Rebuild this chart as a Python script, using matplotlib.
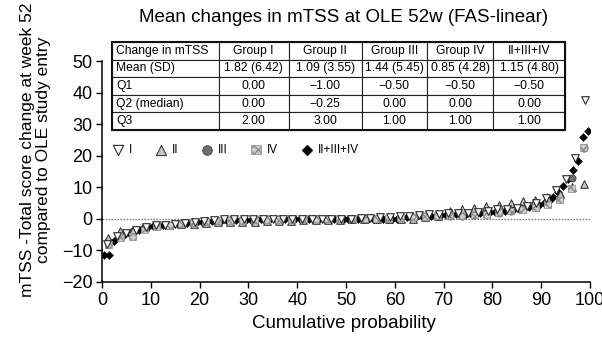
import numpy as np
import matplotlib
matplotlib.use('Agg')
import matplotlib.pyplot as plt
from matplotlib.patches import Rectangle

# ---------------- data ----------------
group_I = [-8, -5.5, -4.5, -3.5, -2.5, -2, -1.8, -1.5, -1.2, -1, -0.8, -0.5, -0.2,
           0, 0, 0, 0, 0, 0, 0, 0, 0, 0, 0, 0, 0,
           0.2, 0.3, 0.5, 0.7, 1, 1, 1.2, 1.5, 1.5, 1.8, 2, 2, 2.2, 2.5, 3, 3.2,
           3.5, 4, 5, 6.5, 9, 12.5, 19.4, 37.8]
group_II = [-6, -4, -3.5, -2.5, -2, -1.8, -1.5, -1.5, -1.2, -1, -1, -1, -1, -0.8,
            -0.7, -0.6, -0.5, -0.5, -0.4, -0.3, -0.2, -0.2, 0, 0, 0, 0,
            0.5, 1, 2.5, 3, 3.5, 4, 4.5, 5, 5.5, 6, 7, 8, 10, 11]
group_III = [-7, -5, -4, -3, -2.2, -1.8, -1.4, -1, -0.8, -0.6, -0.5, -0.4, -0.3,
             -0.2, -0.1, 0, 0, 0, 0, 0, 0, 0, 0,
             0.1, 0.3, 0.5, 0.8, 1, 1, 1, 1.2, 1.5, 2, 2.5, 3, 4, 5, 7, 13, 22.5]
group_IV = [-8, -6, -5.5, -3.5, -2.5, -2, -1.5, -1.2, -0.9, -0.6, -0.5, -0.4, -0.3,
            -0.2, -0.1, -0.1, 0, 0, 0, 0, 0, 0, 0,
            0.2, 0.4, 0.6, 0.8, 1, 1, 1, 1.2, 1.5, 2, 2.5, 3, 3.5, 4.5, 6, 9.5, 22.5]
group_II_III_IV = [-11.5, -11.3, -7, -5.8, -5, -4.5, -4, -3.5, -3, -2.6,
                   -2.3, -2.1, -1.9, -1.8, -1.6, -1.5, -1.4, -1.2, -1.1, -1,
                   -0.9, -0.8, -0.7, -0.6, -0.5, -0.5, -0.5, -0.4, -0.4, -0.3,
                   -0.3, -0.3, -0.2, -0.2, -0.2, -0.1, -0.1, -0.1, -0.1, 0,
                   0, 0, 0, 0, 0, 0, 0, 0, 0, 0,
                   0, 0, 0, 0, 0, 0, 0, 0, 0, 0,
                   0.1, 0.3, 0.7, 0.9, 1, 1, 1, 1, 1.1, 1.2,
                   1.3, 1.4, 1.5, 1.5, 1.6, 1.7, 1.8, 1.9, 2, 2.1,
                   2.3, 2.4, 2.6, 2.8, 3, 3.2, 3.5, 3.8, 4.1, 4.5,
                   5, 5.8, 7, 8.5, 10.5, 12.5, 15.6, 18.2, 26, 27.7]

legend_labels = ['I', 'II', 'III', 'IV', 'II+III+IV']

table_header = ['Change in mTSS', 'Group I', 'Group II', 'Group III', 'Group IV', 'II+III+IV']
row_labels = ['Mean (SD)', 'Q1', 'Q2 (median)', 'Q3']
col_group_I = ['1.82 (6.42)', '0.00', '0.00', '2.00']
col_group_II = ['1.09 (3.55)', '\u22121.00', '\u22120.25', '3.00']
col_group_III = ['1.44 (5.45)', '\u22120.50', '0.00', '1.00']
col_group_IV = ['0.85 (4.28)', '\u22120.50', '0.00', '1.00']
col_combined = ['1.15 (4.80)', '\u22120.50', '0.00', '1.00']

x_ticks = [0, 10, 20, 30, 40, 50, 60, 70, 80, 90, 100]
y_ticks = [-20, -10, 0, 10, 20, 30, 40, 50]

# ---------------- figure ----------------
plt.rcParams['font.family'] = ['Liberation Sans', 'DejaVu Sans']

fig = plt.figure(figsize=(6.02, 3.41), dpi=100)
ax = fig.add_axes([102 / 602, 1 - 282 / 341, 488 / 602, 221 / 341])


def cum_prob(vals):
    n = len(vals)
    return 100.0 * (np.arange(n) + 0.5) / n


series = [
    (group_II_III_IV, dict(marker='D', s=17, facecolor='black', edgecolor='black', linewidths=0.3), 4),
    (group_III, dict(marker='o', s=26, facecolor='#6e6e6e', edgecolor='#3c3c3c', linewidths=0.6), 2),
    (group_II, dict(marker='^', s=30, facecolor='#c4c4c4', edgecolor='#2a2a2a', linewidths=0.7), 1),
    (group_IV, dict(marker='s', s=24, facecolor='#cfcfcf', edgecolor='#8c8c8c', linewidths=0.5, hatch='xxxx'), 3),
    (group_I, dict(marker='v', s=30, facecolor='white', edgecolor='#2a2a2a', linewidths=0.8), 0),
]
handles = [None] * 5
for z, (vals, kw, idx) in enumerate(series):
    h = ax.scatter(cum_prob(vals), vals, zorder=3 + z * 0.1, **kw)
    handles[idx] = h

ax.axhline(0, color='#555555', lw=0.9, ls=(0, (1, 1.4)), zorder=1)

ax.set_xlim(0, 100)
ax.set_ylim(-20, 50)
ax.set_xticks(x_ticks)
ax.set_yticks(y_ticks)
ax.tick_params(axis='both', labelsize=13, length=4, width=1, direction='out', pad=3)
for s in ['top', 'right']:
    ax.spines[s].set_visible(False)
for s in ['left', 'bottom']:
    ax.spines[s].set_linewidth(1.1)

ax.set_xlabel('Cumulative probability', fontsize=13.5)
ax.xaxis.set_label_coords(0.495, -0.15)
ax.set_ylabel('mTSS -Total score change at week 52\ncompared to OLE study entry',
              fontsize=12.5, linespacing=1.05)
ax.yaxis.set_label_coords(-0.105, 0.60)

fig.text(343.5 / 602, 1 - 18 / 341, 'Mean changes in mTSS at OLE 52w (FAS-linear)',
         ha='center', va='center', fontsize=13.5)

ax.legend(handles, legend_labels, ncol=5, frameon=False, loc='center left',
          bbox_to_anchor=(112 / 602, 1 - 150 / 341), bbox_transform=fig.transFigure,
          fontsize=8.5, scatterpoints=1, markerscale=1.35, handlelength=1.0,
          handletextpad=0.45, columnspacing=1.9, borderpad=0, borderaxespad=0)

# ---------------- table ----------------
tax = fig.add_axes([112 / 602, 1 - 130 / 341, 453 / 602, 88 / 341])
tax.axis('off')
cell_text = [table_header]
for i, lab in enumerate(row_labels):
    cell_text.append([lab, col_group_I[i], col_group_II[i], col_group_III[i],
                      col_group_IV[i], col_combined[i]])
widths = [106.7, 70, 73.3, 65, 66.7, 71.7]
tot = sum(widths)
tbl = tax.table(cellText=cell_text, cellLoc='center', bbox=[0, 0, 1, 1],
                colWidths=[w / tot for w in widths])
tbl.auto_set_font_size(False)
tbl.set_fontsize(8.7)
for (r, c), cell in tbl.get_celld().items():
    cell.set_linewidth(0.8)
    cell.set_edgecolor('#222222')
    if c == 0:
        cell._loc = 'left'
        cell.PAD = 0.04
        cell.get_text().set_ha('left')
tax.add_patch(Rectangle((0, 0), 1, 1, transform=tax.transAxes, fill=False,
                        lw=1.5, edgecolor='#111111', clip_on=False, zorder=5))

fig.savefig('out.png', dpi=100)
